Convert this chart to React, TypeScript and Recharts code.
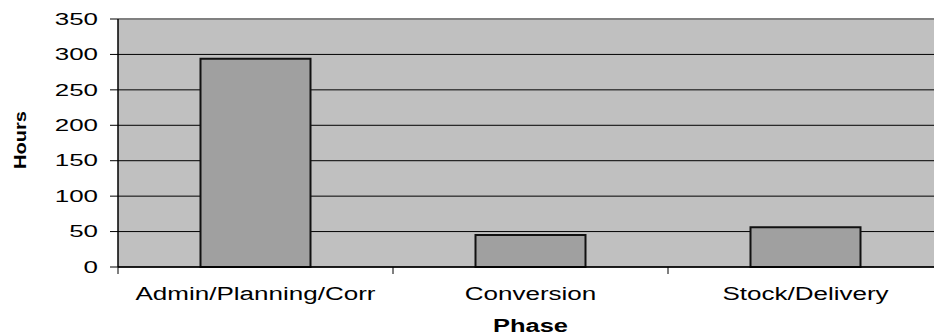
import React from 'react';
import { BarChart, Bar, XAxis, YAxis, CartesianGrid, ReferenceLine } from 'recharts';

const phases = ['Admin/Planning/Corr', 'Conversion', 'Stock/Delivery'];
const hours = [294, 45, 56];
const hourTicks = [0, 50, 100, 150, 200, 250, 300, 350];

const data = phases.map((phase, i) => ({ phase, hours: hours[i] }));

const FONT = '"Liberation Sans", Arial, sans-serif';

const YTick = (props: any) => {
  const { x, y, payload } = props;
  return (
    <text
      transform={`translate(${x},${y}) scale(1.62,1)`}
      textAnchor="end"
      dy="0.36em"
      fontFamily={FONT}
      fontSize={16}
      fill="#000"
    >
      {payload.value}
    </text>
  );
};

const XTick = (props: any) => {
  const { x, y, payload, index, visibleTicksCount } = props;
  const half = payload.offset || 0;
  const isLast = index === (visibleTicksCount ?? phases.length) - 1;
  return (
    <g>
      <line x1={x - half} x2={x - half} y1={y} y2={y + 7} stroke="#000" strokeWidth={1} />
      {isLast && <line x1={x + half} x2={x + half} y1={y} y2={y + 7} stroke="#000" strokeWidth={1} />}
      <text
        transform={`translate(${x},${y + 33}) scale(1.37,1)`}
        textAnchor="middle"
        fontFamily={FONT}
        fontSize={19}
        fill="#000"
      >
        {payload.value}
      </text>
    </g>
  );
};

const PhaseLabel = (props: any) => {
  const { viewBox } = props;
  const cx = viewBox.x + viewBox.width / 2;
  return (
    <text
      transform={`translate(${cx},${viewBox.y + 65}) scale(1.34,1)`}
      textAnchor="middle"
      fontFamily={FONT}
      fontSize={19}
      fontWeight="bold"
      fill="#000"
    >
      Phase
    </text>
  );
};

const HoursLabel = (props: any) => {
  const { viewBox } = props;
  const cy = viewBox.y + viewBox.height / 2 - 3;
  return (
    <text
      transform={`translate(26,${cy}) rotate(-90) scale(1.18,1)`}
      textAnchor="middle"
      fontFamily={FONT}
      fontSize={17}
      fontWeight="bold"
      fill="#000"
    >
      Hours
    </text>
  );
};

export default function App() {
  return (
    <div
      style={{
        position: 'fixed',
        left: 0,
        top: 0,
        width: 934,
        height: 336,
        overflow: 'hidden',
        background: '#fff',
      }}
    >
      <BarChart
        width={960}
        height={336}
        data={data}
        margin={{ top: 19, right: 17, bottom: 0, left: 0 }}
        barCategoryGap="30%"
      >
        <CartesianGrid vertical={false} stroke="#000" strokeWidth={1} fill="#c0c0c0" fillOpacity={1} />
        <XAxis
          dataKey="phase"
          height={69}
          axisLine={{ stroke: '#000', strokeWidth: 1.5 }}
          tickLine={false}
          tickSize={0}
          tickMargin={0}
          interval={0}
          tick={<XTick />}
          label={<PhaseLabel />}
        />
        <YAxis
          width={118}
          domain={[0, 350]}
          ticks={hourTicks}
          interval={0}
          axisLine={{ stroke: '#000', strokeWidth: 1.5 }}
          tickLine={{ stroke: '#000', strokeWidth: 1 }}
          tickSize={8}
          tickMargin={12}
          tick={<YTick />}
          label={<HoursLabel />}
        />
        <ReferenceLine y={350} stroke="#808080" strokeWidth={2} />
        <Bar dataKey="hours" fill="#a0a0a0" stroke="#111" strokeWidth={2} isAnimationActive={false} />
      </BarChart>
    </div>
  );
}
